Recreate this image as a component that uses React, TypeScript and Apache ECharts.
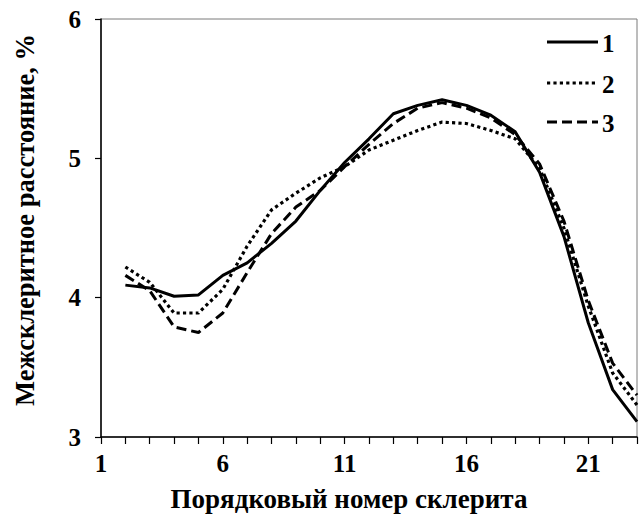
import React, { useEffect, useRef } from "react";
import * as echarts from "echarts";

// Sclerite order numbers (x) and inter-sclerite distance, % (y) for three samples
const scleriteNumbers = [2, 3, 4, 5, 6, 7, 8, 9, 10, 11, 12, 13, 14, 15, 16, 17, 18, 19, 20, 21, 22, 23];
const series1 = [4.09, 4.07, 4.01, 4.02, 4.16, 4.25, 4.39, 4.55, 4.77, 4.97, 5.14, 5.32, 5.38, 5.42, 5.38, 5.31, 5.19, 4.90, 4.44, 3.82, 3.34, 3.11];
const series2 = [4.22, 4.11, 3.89, 3.89, 4.06, 4.37, 4.63, 4.75, 4.86, 4.94, 5.06, 5.13, 5.20, 5.26, 5.25, 5.20, 5.14, 4.93, 4.50, 3.94, 3.46, 3.23];
const series3 = [4.16, 4.05, 3.79, 3.75, 3.89, 4.18, 4.46, 4.65, 4.77, 4.94, 5.10, 5.25, 5.36, 5.40, 5.36, 5.29, 5.17, 4.96, 4.55, 3.98, 3.53, 3.30];
const seriesNames = ["1", "2", "3"];
const xTickLabels = [1, 6, 11, 16, 21];
const yTickLabels = [3, 4, 5, 6];

const FONT = "Liberation Serif";

export default function App() {
  const ref = useRef<HTMLDivElement>(null);

  useEffect(() => {
    if (!ref.current) return;
    const chart = echarts.init(ref.current, undefined, { renderer: "svg" });
    const pair = (vals: number[]) => scleriteNumbers.map((x, i) => [x, vals[i]]);
    const lineStyles: any[] = [
      { color: "#000", width: 3, type: "solid" },
      { color: "#000", width: 3.2, type: [3.2, 3.2] },
      { color: "#000", width: 3, type: [10, 5] },
    ];
    const data = [series1, series2, series3];

    // hand-drawn legend: line sample plus bold label, top right inside the plot
    const legendRows = [42, 83, 122];
    const legendGraphics: any[] = [];
    seriesNames.forEach((name, i) => {
      legendGraphics.push({
        type: "line",
        shape: { x1: 547, y1: legendRows[i], x2: 598, y2: legendRows[i] },
        style: {
          stroke: "#000",
          lineWidth: lineStyles[i].width,
          lineDash: Array.isArray(lineStyles[i].type) ? lineStyles[i].type : null,
        },
      });
      legendGraphics.push({
        type: "text",
        x: 602,
        y: legendRows[i] + 1,
        style: {
          text: name,
          fontFamily: FONT,
          fontWeight: "bold",
          fontSize: 25,
          fill: "#000",
          align: "left",
          verticalAlign: "middle",
        },
      });
    });

    const tickFont = {
      fontFamily: FONT,
      fontWeight: "bold" as const,
      fontSize: 25,
      color: "#000",
    };

    chart.setOption({
      animation: false,
      backgroundColor: "#fff",
      grid: {
        left: 101,
        right: 3,
        top: 19,
        bottom: 79,
        show: true,
        borderColor: "#7a7a7a",
        borderWidth: 1,
      },
      xAxis: {
        type: "value",
        min: 1,
        max: 23,
        interval: 1,
        axisLine: { show: true, lineStyle: { color: "#000", width: 1.5 } },
        axisTick: { show: true, inside: false, length: 7, lineStyle: { color: "#000", width: 1.2 } },
        splitLine: { show: false },
        axisLabel: {
          margin: 14,
          ...tickFont,
          formatter: (v: number) => (xTickLabels.includes(v) ? String(v) : ""),
        },
      },
      yAxis: {
        type: "value",
        min: 3,
        max: 6,
        interval: 1,
        axisLine: { show: true, lineStyle: { color: "#000", width: 1.5 } },
        axisTick: { show: true, inside: false, length: 6, lineStyle: { color: "#000", width: 1.2 } },
        splitLine: { show: false },
        axisLabel: {
          margin: 20,
          ...tickFont,
          formatter: (v: number) => (yTickLabels.includes(v) ? String(v) : ""),
        },
      },
      graphic: [
        {
          type: "text",
          x: 349,
          y: 499,
          style: {
            text: "Порядковый номер склерита",
            fontFamily: FONT,
            fontWeight: "bold",
            fontSize: 27,
            fill: "#000",
            align: "center",
            verticalAlign: "middle",
          },
        },
        {
          type: "text",
          x: 25,
          y: 220,
          rotation: Math.PI / 2,
          style: {
            text: "Межсклеритное расстояние, %",
            fontFamily: FONT,
            fontWeight: "bold",
            fontSize: 26.5,
            fill: "#000",
            align: "center",
            verticalAlign: "middle",
          },
        },
        ...legendGraphics,
      ],
      series: data.map((vals, i) => ({
        name: seriesNames[i],
        type: "line",
        data: pair(vals),
        showSymbol: false,
        symbol: "none",
        lineStyle: lineStyles[i],
        itemStyle: { color: "#000" },
      })),
    });

    return () => chart.dispose();
  }, []);

  return <div ref={ref} style={{ width: 640, height: 516, position: "absolute", left: 0, top: 0 }} />;
}
